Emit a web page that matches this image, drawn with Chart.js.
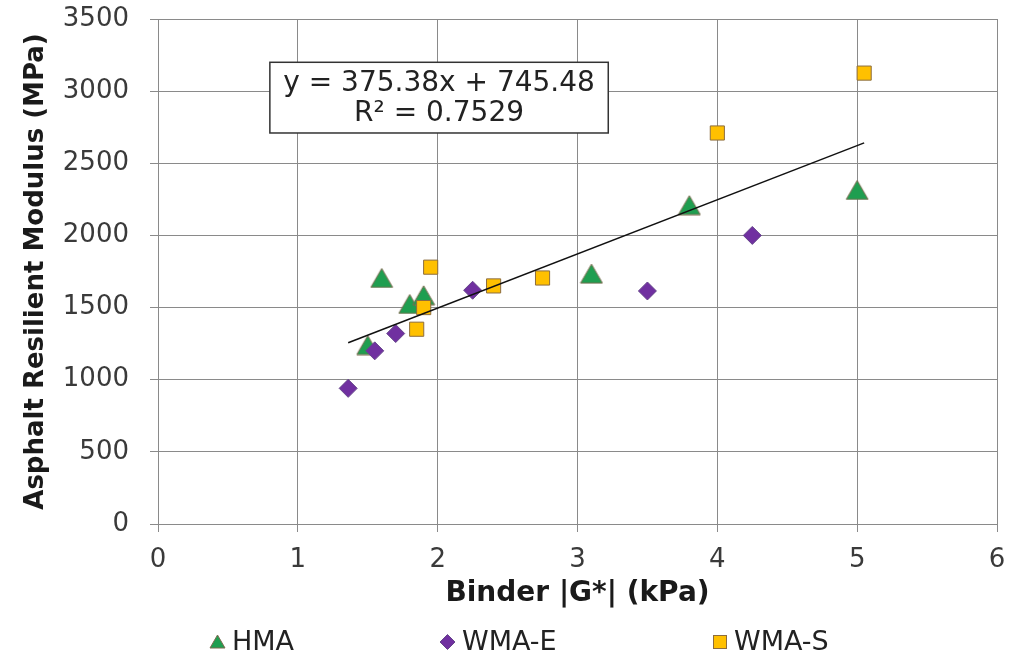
<!DOCTYPE html>
<html>
<head>
<meta charset="utf-8">
<script src="https://cdn.jsdelivr.net/npm/chart.js@4.4.1/dist/chart.umd.min.js"></script>
<style>
  html, body { margin: 0; padding: 0; background: #fff; }
  #wrap { width: 1015px; height: 655px; }
</style>
</head>
<body>
<div id="wrap"><canvas id="modulusChart"></canvas></div>
<script>
// values
const seriesNames = ['HMA', 'WMA-E', 'WMA-S'];
const hmaX = [1.5, 1.6, 1.8, 1.9, 3.1, 3.8, 5.0];
const hmaY = [1240, 1705, 1525, 1585, 1735, 2210, 2315];
const wmaEX = [1.36, 1.55, 1.7, 2.25, 3.5, 4.25];
const wmaEY = [940, 1200, 1320, 1620, 1615, 2000];
const wmaSX = [1.85, 1.9, 1.95, 2.4, 2.75, 4.0, 5.05];
const wmaSY = [1350, 1500, 1780, 1650, 1705, 2710, 3125];
const xTicks = [0, 1, 2, 3, 4, 5, 6];
const yTicks = [0, 500, 1000, 1500, 2000, 2500, 3000, 3500];
// trendline as printed on the chart
const trendSlope = 375.38;
const trendIntercept = 745.48;
const trendR2 = 0.7529;

const FONT = "'DejaVu Sans', Verdana, sans-serif";
const GRID = '#8a8a8a';
const colors = {
    hma: '#1f9e50', hmaEdge: '#7d6b4f',
    wmaE: '#7030a0', wmaEEdge: '#65458a',
    wmaS: '#ffc000', wmaSEdge: '#8c6d3f'
};

function pts(xs, ys) { return xs.map((x, i) => ({ x: x, y: ys[i] })); }

// triangle marker centred on its bounding box (like the spreadsheet markers)
function makeTriangle(w, h) {
    const c = document.createElement('canvas');
    c.width = w + 2; c.height = h + 2;
    const g = c.getContext('2d');
    g.beginPath();
    g.moveTo(1 + w / 2, 1);
    g.lineTo(1 + w, 1 + h);
    g.lineTo(1, 1 + h);
    g.closePath();
    g.fillStyle = colors.hma;
    g.fill();
    g.strokeStyle = colors.hmaEdge;
    g.lineWidth = 1;
    g.stroke();
    return c;
}
const triBig = makeTriangle(22, 19);
const triSmall = makeTriangle(15, 13);

const allX = hmaX.concat(wmaEX, wmaSX);
const xLo = Math.min(...allX), xHi = Math.max(...allX);
const trendPts = [xLo, xHi].map(x => ({ x: x, y: trendSlope * x + trendIntercept }));

const legendStarts = [210, 440, 713];

const boxAndLegend = {
    id: 'boxAndLegend',
    afterDraw(chart) {
        const ctx = chart.ctx;
        const xs = chart.scales.x, ys = chart.scales.y;
        // equation box
        const l = xs.getPixelForValue(0.8), r = xs.getPixelForValue(3.22);
        const t = ys.getPixelForValue(3200), b = ys.getPixelForValue(2710);
        ctx.save();
        ctx.fillStyle = '#fff';
        ctx.fillRect(l, t, r - l, b - t);
        ctx.strokeStyle = '#333';
        ctx.lineWidth = 1.5;
        ctx.strokeRect(l, t, r - l, b - t);
        ctx.fillStyle = '#222';
        ctx.font = '28px ' + FONT;
        ctx.textAlign = 'center';
        ctx.textBaseline = 'middle';
        const cx = (l + r) / 2;
        ctx.fillText('y = ' + trendSlope + 'x + ' + trendIntercept, cx, t + 21);
        ctx.fillText('R\u00b2 = ' + trendR2, cx, t + 51);

        // legend
        const ly = 642;
        ctx.textAlign = 'left';
        ctx.font = '27px ' + FONT;
        seriesNames.forEach((name, i) => {
            const x = legendStarts[i];
            let w;
            if (i === 0) {
                ctx.drawImage(triSmall, x - 1, ly - 8);
                w = 15;
            } else if (i === 1) {
                ctx.beginPath();
                ctx.moveTo(x + 7.5, ly - 7.5);
                ctx.lineTo(x + 15, ly);
                ctx.lineTo(x + 7.5, ly + 7.5);
                ctx.lineTo(x, ly);
                ctx.closePath();
                ctx.fillStyle = colors.wmaE;
                ctx.fill();
                ctx.strokeStyle = colors.wmaEEdge;
                ctx.lineWidth = 1;
                ctx.stroke();
                w = 15;
            } else {
                ctx.fillStyle = colors.wmaS;
                ctx.fillRect(x, ly - 7, 14, 14);
                ctx.strokeStyle = colors.wmaSEdge;
                ctx.lineWidth = 1;
                ctx.strokeRect(x + 0.5, ly - 6.5, 13, 13);
                w = 14;
            }
            ctx.fillStyle = '#222';
            ctx.fillText(name, x + w + 7, ly + 1);
        });
        ctx.restore();
    }
};

const ctx = document.getElementById('modulusChart').getContext('2d');
const modulusChart = new Chart(ctx, {
    type: 'scatter',
    data: {
        datasets: [{
            label: 'Linear trend',
            type: 'line',
            data: trendPts,
            borderColor: '#111',
            borderWidth: 1.5,
            pointRadius: 0,
            fill: false,
            order: 0
        }, {
            label: seriesNames[0],
            data: pts(hmaX, hmaY),
            pointStyle: triBig,
            radius: 11,
            order: 3
        }, {
            label: seriesNames[1],
            data: pts(wmaEX, wmaEY),
            pointStyle: 'rectRot',
            radius: 9,
            backgroundColor: colors.wmaE,
            borderColor: colors.wmaEEdge,
            borderWidth: 1,
            order: 2
        }, {
            label: seriesNames[2],
            data: pts(wmaSX, wmaSY),
            pointStyle: 'rect',
            radius: 10,
            backgroundColor: colors.wmaS,
            borderColor: colors.wmaSEdge,
            borderWidth: 1,
            order: 1
        }]
    },
    options: {
        responsive: true,
        maintainAspectRatio: false,
        animation: false,
        layout: { padding: { top: 19, right: 18, bottom: 35, left: 0 } },
        scales: {
            x: {
                type: 'linear',
                min: 0,
                max: 6,
                afterBuildTicks: s => { s.ticks = xTicks.map(v => ({ value: v })); },
                afterFit: s => { s.height = 96; s.paddingLeft = 0; s.paddingRight = 0; },
                grid: { color: GRID, tickLength: 8 },
                border: { color: GRID },
                ticks: { color: '#3a3a3a', padding: 13, font: { family: FONT, size: 26 }, callback: v => String(v) },
                title: {
                    display: true,
                    text: 'Binder |G*| (kPa)',
                    color: '#1a1a1a',
                    padding: { top: 0, bottom: 9 },
                    font: { family: FONT, size: 28, weight: 'bold' }
                }
            },
            y: {
                min: 0,
                max: 3500,
                afterBuildTicks: s => { s.ticks = yTicks.map(v => ({ value: v })); },
                afterFit: s => { s.width = 158; s.paddingTop = 0; s.paddingBottom = 0; },
                grid: { color: GRID, tickLength: 8 },
                border: { color: GRID },
                ticks: { color: '#3a3a3a', padding: 21, font: { family: FONT, size: 26 }, callback: v => String(v) },
                title: {
                    display: true,
                    text: 'Asphalt Resilient Modulus (MPa)',
                    color: '#1a1a1a',
                    padding: { top: 21, bottom: 0 },
                    font: { family: FONT, size: 26, weight: 'bold' }
                }
            }
        },
        plugins: {
            legend: { display: false },
            tooltip: { enabled: false }
        }
    },
    plugins: [boxAndLegend]
});
</script>
</body>
</html>
